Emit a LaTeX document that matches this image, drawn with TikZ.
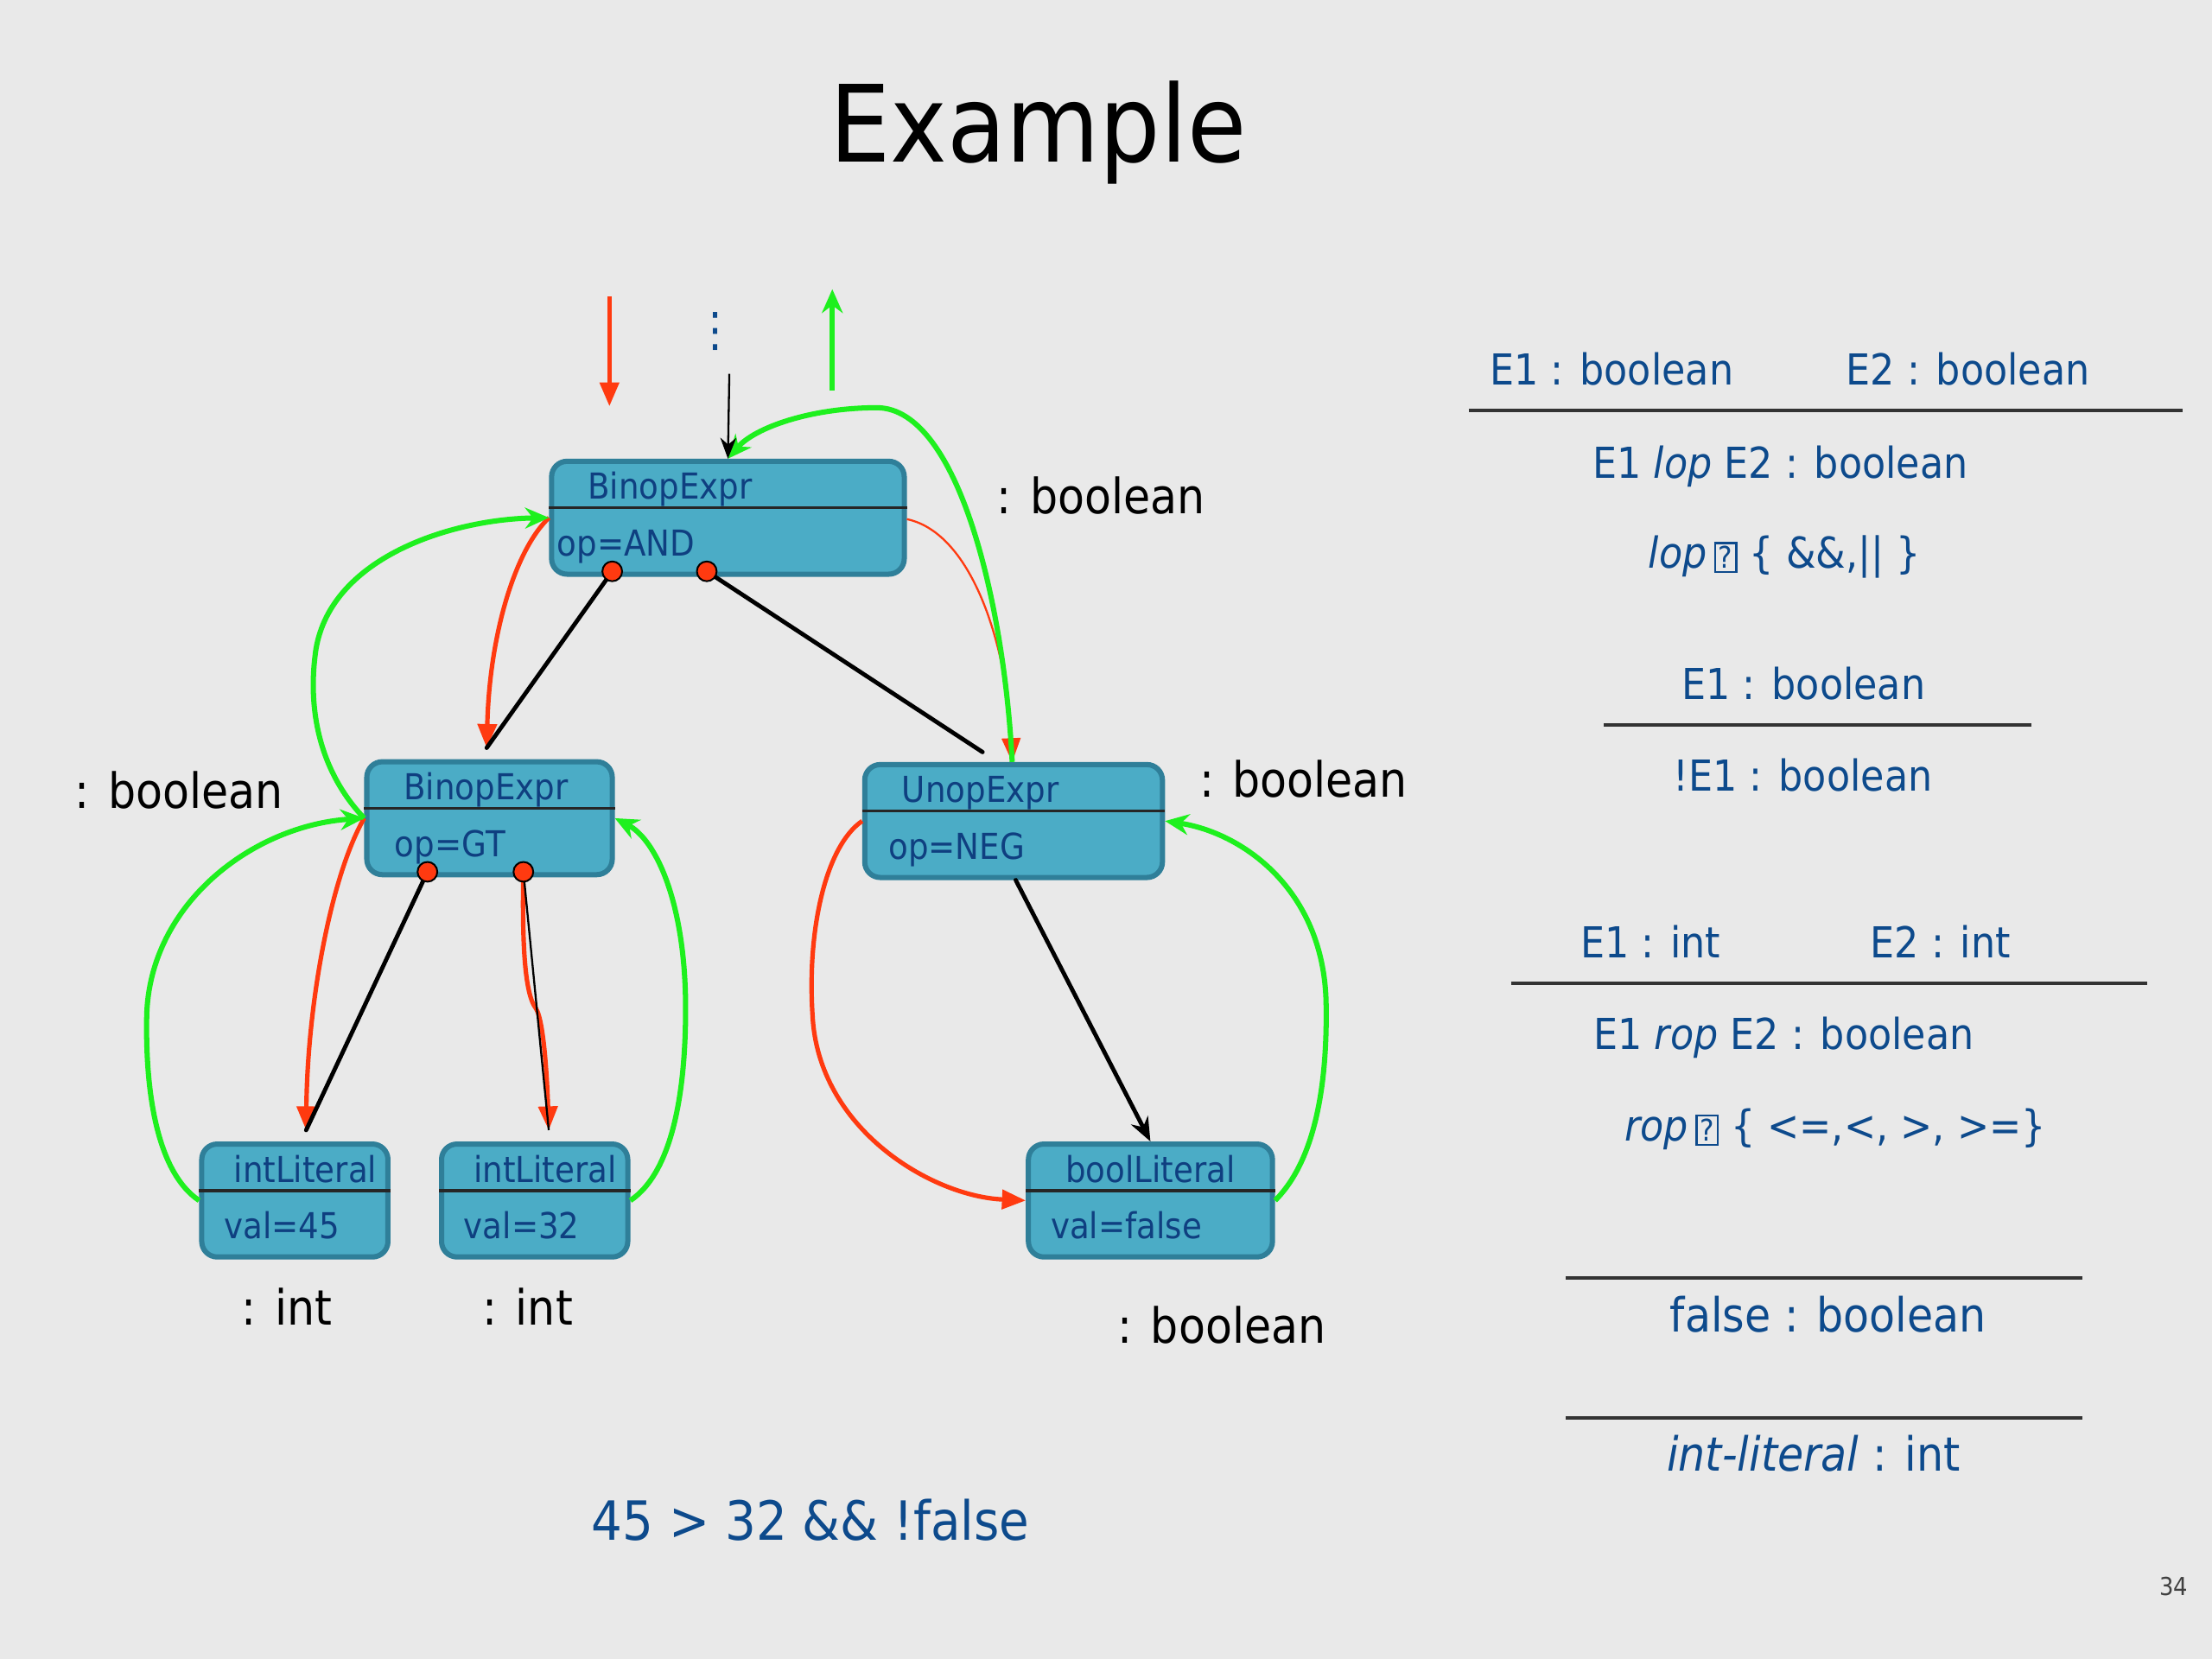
\documentclass[tikz,border=0pt]{standalone}
\usepackage{fontspec}
\setmainfont{DejaVu Sans}[FakeStretch=0.9]
\usepackage{tikz}
\usetikzlibrary{calc,arrows.meta}
\definecolor{bg}{HTML}{E9E9E9}
\definecolor{boxfill}{HTML}{4BACC6}
\definecolor{boxedge}{HTML}{2F7F99}
\definecolor{boxink}{HTML}{0F3F80}
\definecolor{ink}{HTML}{0D4A8C}
\definecolor{inhred}{HTML}{FF3A10}
\definecolor{syngreen}{HTML}{1EF01E}
\definecolor{barc}{HTML}{333333}
\definecolor{pagegray}{HTML}{404040}
\newcommand{\missglyph}{{\setlength{\fboxsep}{0.5pt}\setlength{\fboxrule}{0.4pt}\fbox{\fontsize{6}{6}\selectfont ?}}}
\tikzset{
  astbox/.style={draw=boxedge, fill=boxfill, line width=1.05pt, rounded corners=0.11cm,
    minimum height=0.8cm, inner sep=0pt},
  divider/.style={draw=black!85, line width=0.55pt},
  boxtext/.style={font=\fontsize{7.2}{8}\selectfont, text=boxink, inner sep=0pt, anchor=base},
  port/.style={circle, fill=inhred, draw=black, line width=0.35pt, inner sep=0pt, minimum size=0.14cm},
  child/.style={draw=black, line width=0.85pt, line cap=round},
  childthin/.style={draw=black, line width=0.4pt},
  inh/.style={draw=inhred, line width=0.9pt, -{Triangle[length=4.8pt,width=3.8pt]}},
  inhthin/.style={draw=inhred, line width=0.4pt, -{Triangle[length=4.8pt,width=3.8pt]}},
  syn/.style={draw=syngreen, line width=1.05pt, -{Stealth[length=4.8pt,width=4.2pt]}},
  typelbl/.style={font=\fontsize{9.8}{11}\selectfont, text=black, inner sep=0pt, anchor=base},
  ruletext/.style={font=\fontsize{8.6}{10}\selectfont, text=ink, inner sep=0pt, anchor=base},
  rulebig/.style={ruletext, font=\fontsize{9.5}{11}\selectfont},
  rulebar/.style={draw=barc, line width=0.7pt}
}
\begin{document}
\begin{tikzpicture}[x=0.01cm, y=-0.01cm]
  \fill[bg] (0,0) rectangle (1568,1176);
  \useasboundingbox (0,0) rectangle (1568,1176);

  \node[font=\fontsize{21.5}{24}\selectfont, anchor=base, inner sep=0pt] (title) at (736,115) {Example};

  % tree nodes
  \foreach \nm/\cx/\cy/\bw/\ttl/\tx/\fld/\fx in {root/516/367/250/BinopExpr/-41/op=AND/5,
      gt/347/580/174/BinopExpr/-2.5/op=GT/21, unop/718.5/582/211/UnopExpr/-23.5/op=NEG/18,
      lit45/209/851/132/intLiteral/7.5/val=45/17, lit32/379/851/132/intLiteral/7.5/val=32/17,
      litfalse/815.5/851/173/boolLiteral/0/val=false/17}{
    \node[astbox, minimum width=\bw*0.01cm] (\nm) at (\cx,\cy) {};
    \draw[divider] ($(\nm.west)+(0,-7)$) -- ($(\nm.east)+(0,-7)$);
    \node[boxtext] (\nm-t) at ($(\nm)+(\tx,-13)$) {\ttl};
    \node[boxtext, anchor=base west] (\nm-f) at ($(\nm.west)+(\fx,27)$) {\fld};
  }

  \coordinate (root-l) at (434,405);
  \coordinate (root-r) at (501,405);
  \coordinate (gt-l) at (303,618);
  \coordinate (gt-r) at (371,618);

  % inherited (red)
  \coordinate (inh-a) at (432,210);
  \coordinate (inh-b) at (432,288);
  \draw[inh] (inh-a) -- (inh-b);
  \draw[inh] (root.west) .. controls (365,390) and (347,450) .. ($(gt.north)+(-2,-8)$);
  \draw[inhthin] ($(root.east)+(0,1)$) .. controls (690,378) and (714,460) .. ($(unop.north)+(-1,0)$);
  \draw[inh] (gt.west) .. controls (235,620) and (218,710) .. ($(lit45.north)+(8,-8)$);
  \draw[inh] (gt-r) .. controls (370,670) and (372,705) .. (380,715)
    .. controls (386,725) and (388,770) .. ($(lit32.north)+(10,-8)$);
  \draw[inh] (unop.west) .. controls (585,600) and (572,660) .. (576,720)
    .. controls (580,800) and (660,848) .. (litfalse.west);

  % synthesized (green)
  \coordinate (syn-a) at (590,277);
  \coordinate (syn-b) at (590,205);
  \draw[syn] (syn-a) -- (syn-b);
  \draw[syn] ($(unop.north)+(-1,0)$) .. controls (712,430) and (680,290) .. (622,289)
    .. controls (575,289) and (535,303) .. (root.north);
  \draw[syn] (gt.west) .. controls (225,545) and (218,500) .. (224,460)
    .. controls (235,395) and (320,368) .. (root.west);
  \draw[syn] (lit45.west) .. controls (110,830) and (103,770) .. (104,720)
    .. controls (106,640) and (180,585) .. (gt.west);
  \draw[syn] (lit32.east) .. controls (478,830) and (486,770) .. (486,715)
    .. controls (486,640) and (465,595) .. (gt.east);
  \draw[syn] (litfalse.east) .. controls (935,820) and (941,760) .. (940,710)
    .. controls (938,630) and (880,590) .. (unop.east);

  % tree edges
  \draw[child] (root-l) -- ($(gt.north)+(-2,-8)$);
  \draw[child] (root-r) -- ($(unop.north)+(-22,-7)$);
  \draw[child] (gt-l) -- ($(lit45.north)+(8,-8)$);
  \draw[childthin] (gt-r) -- ($(lit32.north)+(10,-8)$);
  \draw[child, -{Stealth[length=4.8pt,width=3.8pt]}] ($(unop.south)+(1.5,0)$) -- (litfalse.north);
  \coordinate (above-root) at (517,265);
  \draw[childthin, -{Stealth[length=4.2pt,width=3.2pt]}] (above-root) -- (root.north);
  \node[ruletext, font=\fontsize{9.5}{10}\selectfont, anchor=center] (more) at (507,235) {⋮};

  \foreach \p in {root-l,root-r,gt-l,gt-r}{
    \node[port] (\p-dot) at (\p) {};
  }

  % types
  \node[typelbl] (root-ty) at (780.5,364) {: boolean};
  \node[typelbl] (gt-ty) at (127,573) {: boolean};
  \node[typelbl] (unop-ty) at (924,565) {: boolean};
  \node[typelbl] (lit45-ty) at (203.5,939) {: int};
  \node[typelbl] (lit32-ty) at (374,939) {: int};
  \node[typelbl] (litfalse-ty) at (866,952) {: boolean};

  % rules
  \node[ruletext] (r1-e1) at (1142.5,273) {E1 : boolean};
  \node[ruletext] (r1-e2) at (1395,273) {E2 : boolean};
  \draw[rulebar] (1041,291) -- (1547,291);
  \node[ruletext] (r1-c) at (1262,339) {E1 \textit{lop} E2 : boolean};
  \node[ruletext] (r1-s) at (1265,403) {\textit{lop}\,\missglyph\ \{ \&\&,|| \}};
  \node[ruletext] (r2-e1) at (1278.5,496) {E1 : boolean};
  \draw[rulebar] (1137,514) -- (1440,514);
  \node[ruletext] (r2-c) at (1278,561) {!E1 : boolean};
  \node[ruletext] (r3-e1) at (1170,679) {E1 : int};
  \node[ruletext] (r3-e2) at (1375.5,679) {E2 : int};
  \draw[rulebar] (1071,697) -- (1522,697);
  \node[ruletext] (r3-c) at (1264.5,744) {E1 \textit{rop} E2 : boolean};
  \node[ruletext] (r3-s) at (1301,809) {\textit{rop}\,\missglyph\ \{ <=,<, >, >=\}};
  \draw[rulebar] (1110,906) -- (1476,906);
  \node[rulebig] (r4-c) at (1296,944) {false : boolean};
  \draw[rulebar] (1110,1005) -- (1476,1005);
  \node[rulebig] (r5-c) at (1285.5,1043) {\textit{int-literal} : int};

  \node[ruletext, font=\fontsize{10.9}{12}\selectfont] (expr) at (574.5,1092) {45 > 32 \&\& !false};
  \node[font=\fontsize{5}{6}\selectfont, text=pagegray, anchor=base, inner sep=0pt] (page) at (1541,1131) {34};
\end{tikzpicture}
\end{document}
